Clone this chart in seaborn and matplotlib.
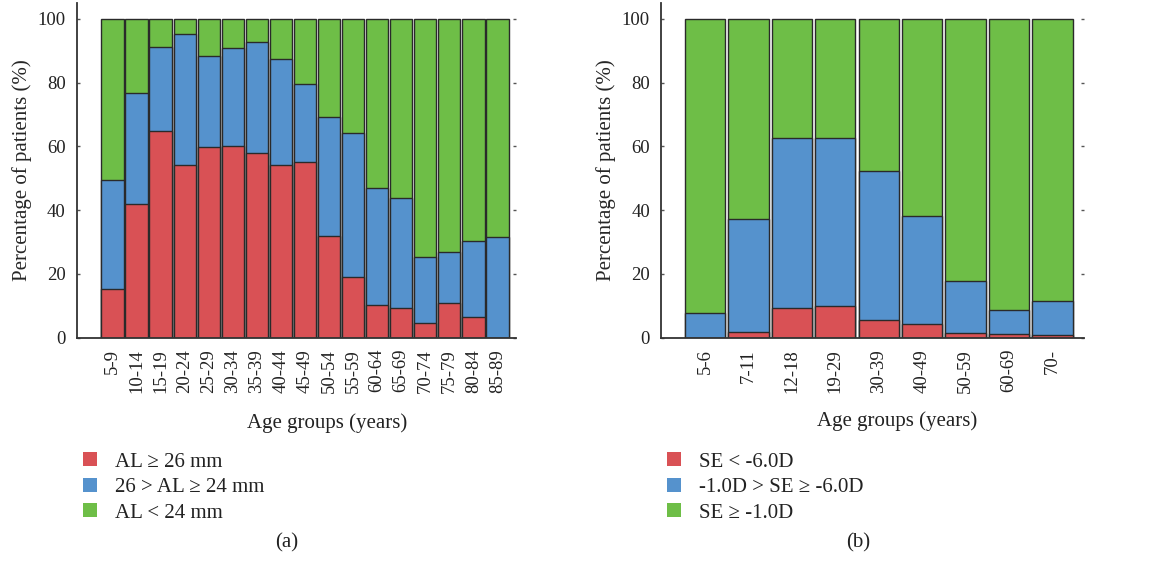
import matplotlib
matplotlib.use('Agg')

import matplotlib.pyplot as plt
import matplotlib.patches as mpatches
import seaborn as sns
import numpy as np

# ---- data ----
ages_a = ['5-9', '10-14', '15-19', '20-24', '25-29', '30-34', '35-39', '40-44', '45-49',
          '50-54', '55-59', '60-64', '65-69', '70-74', '75-79', '80-84', '85-89']
al_long = [15.2, 41.8, 64.8, 54.1, 59.9, 60.2, 57.9, 54.1, 55.0,
           31.8, 19.1, 10.3, 9.2, 4.5, 10.8, 6.4, 0.0]          # AL >= 26 mm
al_mid = [34.4, 35.0, 26.4, 41.1, 28.5, 30.7, 34.8, 33.3, 24.7,
          37.4, 45.1, 36.5, 34.6, 20.7, 16.1, 23.9, 31.5]        # 26 > AL >= 24 mm
labels_a = ['AL \u2265 26 mm', '26 > AL \u2265 24 mm', 'AL < 24 mm']

ages_b = ['5-6', '7-11', '12-18', '19-29', '30-39', '40-49', '50-59', '60-69', '70-']
se_high = [0.0, 1.9, 9.2, 10.1, 5.7, 4.4, 1.4, 1.1, 1.0]         # SE < -6.0D
se_mid = [7.8, 35.2, 53.3, 52.6, 46.5, 33.7, 16.4, 7.7, 10.5]    # -1.0D > SE >= -6.0D
labels_b = ['SE < -6.0D', '-1.0D > SE \u2265 -6.0D', 'SE \u2265 -1.0D']

colors = ['#d95155', '#5592cd', '#6ebe47']
edge = '#2a2a2a'

sns.set_style('white')
plt.rcParams['font.family'] = ['Liberation Serif', 'DejaVu Serif']
plt.rcParams['text.color'] = '#222222'
plt.rcParams['xtick.color'] = '#222222'
plt.rcParams['ytick.color'] = '#222222'

fig = plt.figure(figsize=(11.49, 5.63), dpi=100)


def stacked(ax, groups, low, mid, xlim):
    low = np.array(low)
    mid = np.array(mid)
    total = np.full(len(groups), 100.0)
    # draw cumulative layers back to front
    for vals, col in [(total, colors[2]), (low + mid, colors[1]), (low, colors[0])]:
        sns.barplot(x=groups, y=vals, color=col, width=0.93, edgecolor=edge,
                    linewidth=1.0, saturation=1, ax=ax)
    ax.set_xlim(*xlim)
    ax.set_ylim(0, 105)
    ax.set_yticks([0, 20, 40, 60, 80, 100])
    ax.tick_params(axis='x', rotation=90, labelsize=13.5, length=0, pad=8)
    ax.tick_params(axis='y', labelsize=13.5, direction='in', length=2, width=1,
                   right=True, left=True, color='#555555', pad=8)
    ax.set_ylabel('Percentage of patients (%)', fontsize=15)
    ax.set_xlabel('')
    for s in ['top', 'right']:
        ax.spines[s].set_visible(False)
    for s in ['left', 'bottom']:
        ax.spines[s].set_color('#333333')
        ax.spines[s].set_linewidth(1.3)


ax1 = fig.add_axes([0.067, 0.4, 0.382, 0.595])
stacked(ax1, ages_a, al_long, al_mid, (-1.48, 16.77))

ax2 = fig.add_axes([0.5753, 0.4, 0.368, 0.595])
stacked(ax2, ages_b, se_high, se_mid, (-1.01, 8.72))

fig.text(327 / 1149, 1 - 423 / 563, 'Age groups (years)', ha='center', va='center', fontsize=15)
fig.text(897 / 1149, 1 - 421 / 563, 'Age groups (years)', ha='center', va='center', fontsize=15)

for lbls, x in [(labels_a, 75 / 1149), (labels_b, 659 / 1149)]:
    handles = [mpatches.Patch(facecolor=c, edgecolor='none', label=l) for c, l in zip(colors, lbls)]
    fig.legend(handles=handles, loc='upper left', bbox_to_anchor=(x, 1 - 444 / 563),
               frameon=False, fontsize=15, handlelength=0.65, handleheight=0.65,
               handletextpad=0.85, labelspacing=0.3, borderaxespad=0)

fig.text(287 / 1149, 1 - 543 / 563, '(a)', ha='center', va='center', fontsize=15)
fig.text(858 / 1149, 1 - 543 / 563, '(b)', ha='center', va='center', fontsize=15)

fig.savefig('out.png', dpi=100)
plt.close(fig)
